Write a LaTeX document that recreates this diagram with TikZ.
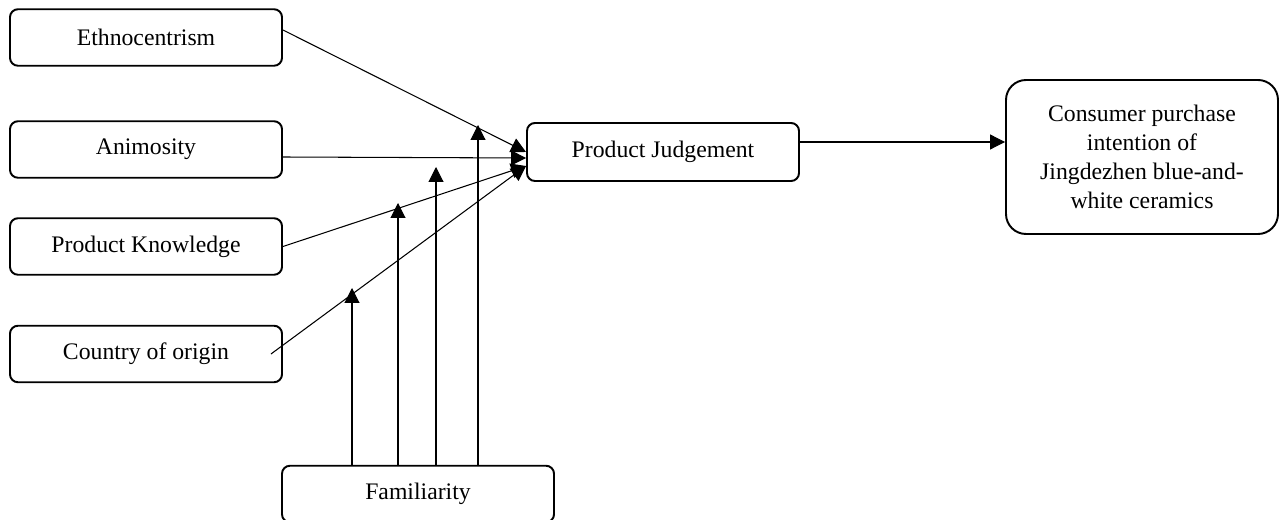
\documentclass[tikz,border=0pt]{standalone}
\usepackage{fontspec}
\setmainfont{Liberation Serif}
\usetikzlibrary{arrows.meta,positioning,calc}
\tikzset{
  factor/.style={draw,line width=1.1pt,rounded corners=4.5pt,minimum width=5.44cm,minimum height=1.13cm,
    font=\fontsize{13.5}{16}\selectfont,align=center,inner sep=2pt},
  link/.style={line width=0.6pt,-{Triangle[length=8.5pt,width=8.5pt]}},
}

\begin{document}
\begin{tikzpicture}
  \useasboundingbox (0,0) rectangle (25.6,-10.4);
  % factors
  \node[factor] (eth) at (2.92,-0.75) {Ethnocentrism};
  \node[factor] (ani) at (2.92,-2.99) {Animosity};
  \node[factor] (knw) at (2.92,-4.93) {Product Knowledge};
  \node[factor] (cty) at (2.92,-7.08) {Country of origin};
  \node[factor] (fam) at (8.36,-9.88) {Familiarity};
  \node[factor,minimum height=1.16cm] (pj) at (13.26,-3.04) {Product Judgement};
  \node[factor,minimum height=3.08cm,rounded corners=0.4cm,
    font=\fontsize{13.5}{16.6}\selectfont] (cpi) at (22.84,-3.14)
    {Consumer purchase\\intention of\\Jingdezhen blue-and-\\white ceramics};
  % moderating points
  \coordinate (m1) at (7.04,-5.76);
  \coordinate (m2) at (7.96,-4.06);
  \coordinate (m3) at (8.72,-3.34);
  \coordinate (m4) at (9.56,-2.5);
  % links
  \draw[link] ($(eth.east)+(0,0.15)$) -- (pj.west);
  \draw[link] ($(ani.east)+(0,-0.15)$) -- ($(pj.west)+(0,-0.12)$);
  \draw[link] (knw.east) -- ($(pj.west)+(0,-0.28)$);
  \draw[link] ($(cty.east)+(-0.24,0)$) -- ($(pj.west)+(0,-0.28)$);
  \foreach \m in {m1,m2,m3,m4}
    \draw[link] (fam.north -| \m) -- (\m);
  \coordinate (pjo) at ($(pj.east)+(0,0.2)$);
  \draw[link] (pjo) -- (pjo -| cpi.west);
\end{tikzpicture}
\end{document}
